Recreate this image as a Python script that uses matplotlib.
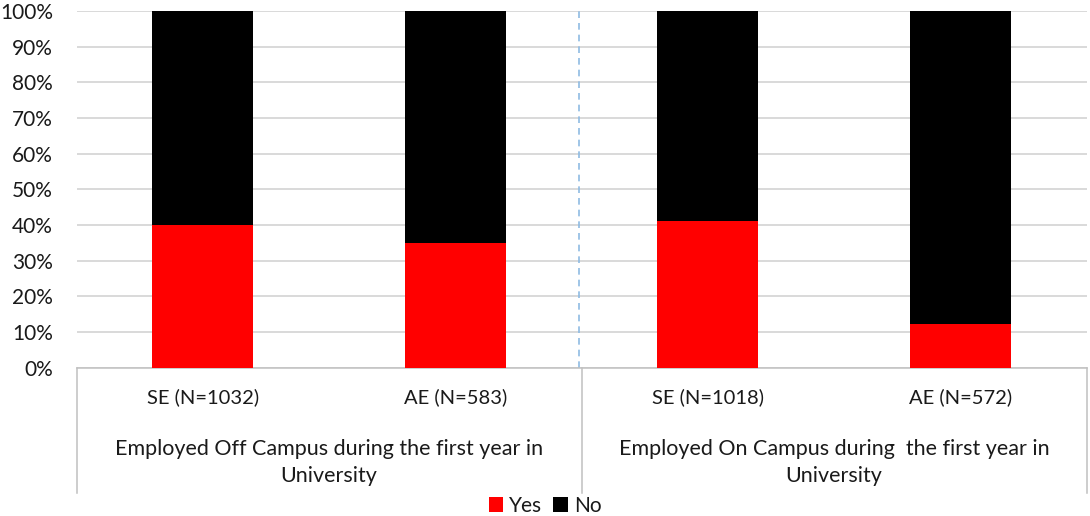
import matplotlib
matplotlib.use("Agg")
import matplotlib.pyplot as plt
from matplotlib.patches import Patch
from matplotlib.ticker import PercentFormatter
import matplotlib.transforms as mtransforms

# Survey shares (%) per subgroup
categories = ["SE (N=1032)", "AE (N=583)", "SE (N=1018)", "AE (N=572)"]
groups = ["Employed Off Campus during the first year in\nUniversity",
          "Employed On Campus during  the first year in\nUniversity"]
yes = [40.0, 35.0, 41.1, 12.3]
no = [100 - v for v in yes]

plt.rcParams["font.family"] = ["Lato", "DejaVu Sans"]

fig = plt.figure(figsize=(10.9, 5.16), dpi=100)
ax = fig.add_axes([0.0702, 0.2874, 0.9266, 0.6916])

x = list(range(len(categories)))
ax.bar(x, yes, width=0.4, color="#ff0000", zorder=3)
ax.bar(x, no, width=0.4, bottom=yes, color="#000000", zorder=3)

ax.set_xlim(-0.5, len(categories) - 0.5)
ax.set_ylim(0, 100)
ax.set_yticks(range(0, 101, 10))
ax.yaxis.set_major_formatter(PercentFormatter(decimals=0))
ax.tick_params(axis="y", length=0, pad=17, labelsize=15, labelcolor="#1a1a1a")
ax.grid(axis="y", color="#d0d0d0", linewidth=1.1, zorder=0)
ax.set_axisbelow(True)

for s in ("top", "right", "left"):
    ax.spines[s].set_visible(False)
ax.spines["bottom"].set_color("#c0c0c0")
ax.spines["bottom"].set_linewidth(1.1)

ax.set_xticks(x)
ax.set_xticklabels(categories, fontsize=14.5, color="#1a1a1a")
ax.tick_params(axis="x", length=0, pad=15)

# separator between the two question groups
ax.axvline(1.49, color="#8fbbe3", linestyle=(0, (4, 3)), linewidth=1.2, zorder=1)

# two-level category box below the axis
trans = mtransforms.blended_transform_factory(ax.transData, ax.transAxes)
for xb in (-0.5, 1.5, 3.5):
    ax.plot([xb, xb], [0, -0.351], transform=trans, color="#c0c0c0",
            linewidth=1.1, clip_on=False)

for gi, label in enumerate(groups):
    ax.text(gi * 2 + 0.5, -0.2655, label, transform=trans, ha="center",
            va="center", fontsize=15.5, color="#1a1a1a", linespacing=1.4)

handles = [Patch(facecolor="#ff0000", label="Yes"),
           Patch(facecolor="#000000", label="No")]
fig.legend(handles=handles, loc="center", bbox_to_anchor=(0.5, 0.02),
           ncol=2, frameon=False, fontsize=15, handlelength=0.7,
           handleheight=0.7, handletextpad=0.3, columnspacing=0.5,
           labelcolor="#1a1a1a", borderpad=0.1)

fig.savefig("out.png", dpi=100)
